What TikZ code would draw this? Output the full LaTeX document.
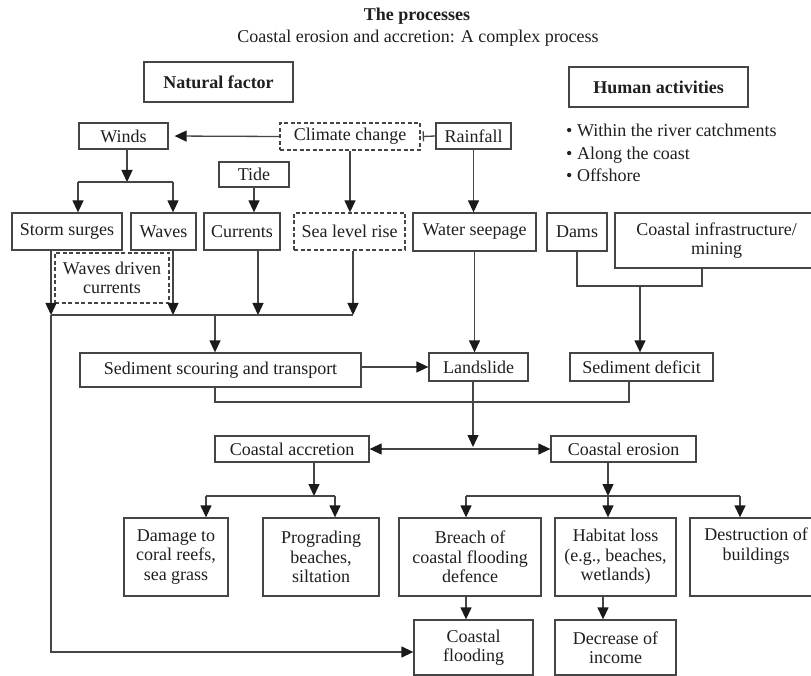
\documentclass[tikz,border=0pt]{standalone}
\usepackage{fontspec}
\setmainfont{Liberation Serif}
\usetikzlibrary{arrows.meta}
\definecolor{lc}{HTML}{454545}
\definecolor{ac}{HTML}{1a1a1a}
\definecolor{tc}{HTML}{1f1f1f}
\newcommand\myfs{\fontsize{18}{19.5}\selectfont}
\tikzset{
  box/.style={draw=lc, line width=1.3pt, inner sep=0pt, align=center, font=\myfs, text=tc},
  dbox/.style={box, dash pattern=on 4pt off 2.5pt},
  tbox/.style={box, line width=2.2pt},
  ln/.style={draw=lc, line width=1.3pt},
  tip/.style={Triangle[length=12pt,width=11pt,color=ac]},
  arr/.style={ln, -{Triangle[length=12pt,width=11pt,color=ac]}},
  arrb/.style={ln, {Triangle[length=12pt,width=11pt,color=ac]}-{Triangle[length=12pt,width=11pt,color=ac]}},
  barln/.style={ln, {Bar[width=10pt]}-},
  lbl/.style={inner sep=0pt, font=\myfs, text=tc}
}
\begin{document}
\begin{tikzpicture}[x=1pt,y=-1pt]
\useasboundingbox (0,0) rectangle (811,676);
\clip (0,0) rectangle (811,676);
\fill[white] (0,0) rectangle (811,676);
% titles
\node[lbl, font=\myfs\bfseries] (t1) at (417,16) {The processes};
\node[lbl] (t2) at (418,38) {Coastal erosion and accretion: A complex process};
\node[box, font=\myfs\bfseries, minimum width=149pt, minimum height=40pt] (nat) at (218.5,82) {Natural factor};
\node[box, font=\myfs\bfseries, minimum width=179pt, minimum height=40pt] (hum) at (658.5,87) {Human activities};
\node[lbl, align=left, anchor=north west, font=\fontsize{18}{22.5}\selectfont] (bul) at (566,124) {• Within the river catchments\\• Along the coast\\• Offshore};
% top row
\node[box, minimum width=89pt, minimum height=26pt] (winds) at (123.5,136) {Winds};
\node[dbox, minimum width=140pt, minimum height=27pt] (clim) at (350,136.5) {Climate change};
\node[box, minimum width=75pt, minimum height=26pt] (rain) at (473.5,136) {Rainfall};
\node[tbox, minimum width=70pt, minimum height=25pt] (tide) at (254,174.5) {Tide};
% second row
\node[box, minimum width=110pt, minimum height=37pt] (storm) at (67,231.5) {Storm surges};
\node[box, minimum width=65pt, minimum height=37pt] (waves) at (163.5,231.5) {Waves};
\node[box, minimum width=76pt, minimum height=37pt] (curr) at (242,231.5) {Currents};
\node[dbox, minimum width=111pt, minimum height=37pt] (slr) at (349.5,231.5) {Sea level rise};
\node[box, minimum width=123pt, minimum height=38pt] (seep) at (474.5,232) {Water seepage};
\node[box, minimum width=60pt, minimum height=38pt] (dams) at (577,232) {Dams};
\node[box, minimum width=203pt, minimum height=55pt] (infra) at (716.5,240.5) {Coastal infrastructure/\\mining};
\node[dbox, minimum width=114pt, minimum height=50pt] (wdc) at (112,278) {Waves driven\\currents};
% middle
\node[box, minimum width=281pt, minimum height=34pt] (sed) at (220.5,370) {Sediment scouring and transport};
\node[box, minimum width=99pt, minimum height=28pt] (land) at (478.5,367) {Landslide};
\node[box, minimum width=143pt, minimum height=28pt] (def) at (641.5,367) {Sediment deficit};
\node[box, minimum width=154pt, minimum height=26pt] (acc) at (292,449) {Coastal accretion};
\node[box, minimum width=145pt, minimum height=26pt] (ero) at (623.5,449) {Coastal erosion};
% bottom
\node[box, minimum width=104pt, minimum height=78pt] (dmg) at (176,557) {Damage to\\coral reefs,\\sea grass};
\node[box, minimum width=116pt, minimum height=78pt] (prog) at (321,557) {Prograding\\beaches,\\siltation};
\node[box, minimum width=142pt, minimum height=78pt] (breach) at (470,557) {Breach of\\coastal flooding\\defence};
\node[box, minimum width=121pt, minimum height=78pt] (hab) at (615.5,557) {Habitat loss\\(e.g., beaches,\\wetlands)};
\node[box, minimum width=132pt, minimum height=78pt] (destr) at (756,557) {Destruction of\\buildings\\\strut};
\node[box, minimum width=119pt, minimum height=55pt] (flood) at (473.5,647.5) {Coastal\\flooding};
\node[box, minimum width=121pt, minimum height=55pt] (decr) at (615.5,647.5) {Decrease of\\income};
% coordinates
\coordinate (w1) at (127,182);
\coordinate (b1) at (78,182);
\coordinate (b2) at (173,182);
\coordinate (m1) at (51,315);
\coordinate (m2) at (173,315);
\coordinate (m3) at (258,315);
\coordinate (m4) at (353,315);
\coordinate (m5) at (215,315);
\coordinate (d1) at (640,286);
\coordinate (d2) at (702,286);
\coordinate (s1) at (215,402);
\coordinate (s2) at (629,402);
\coordinate (L) at (473,447);
\coordinate (a0) at (314,496);
\coordinate (a1) at (206,496);
\coordinate (a2) at (335,496);
\coordinate (e0) at (608,496);
\coordinate (e1) at (466,496);
\coordinate (e2) at (740,496);
\coordinate (f1) at (466,596);
\coordinate (h1) at (603,596);
\coordinate (r1) at (51,652);
% connectors top
\draw[arr, shorten >=6pt] (clim.west) -- (winds.east);
\draw[barln] ([xshift=2pt]clim.east) -- (rain.west);
\draw[arr] (w1 |- winds.south) -- (w1);
\draw[ln] (b1) -- (b2);
\draw[arr] (b1) -- (b1 |- storm.north);
\draw[arr] (b2) -- (b2 |- waves.north);
\draw[arr] (tide.south) -- (tide.south |- curr.north);
\draw[arr] (clim.south) -- (clim.south |- slr.north);
\draw[arr] (rain.south) -- (rain.south |- seep.north);
% merge of natural factors
\draw[arr] (m1 |- storm.south) -- (m1);
\draw[arr] (m2 |- waves.south) -- (m2);
\draw[arr] (m3 |- curr.south) -- (m3);
\draw[arr] (m4 |- slr.south) -- (m4);
\draw[ln] (m1) -- (m4);
\draw[arr] (m5) -- (m5 |- sed.north);
\draw[arr] (m1) -- (r1) -- (r1 -| flood.west);
% human activities
\draw[ln] (dams.south) |- (d2) -- (d2 |- infra.south);
\draw[arr] (d1) -- (d1 |- def.north);
% middle
\draw[arr] (land.west -| sed.east) -- (land.west);
\draw[arr] (seep.south) -- (seep.south |- land.north);
\draw[ln] (s1 |- sed.south) -- (s1) -- (s2) -- (s2 |- def.south);
\draw[arr] (L |- land.south) -- (L);
\draw[arrb] (acc.east) -- (ero.west);
% accretion branch
\draw[arr] (a0 |- acc.south) -- (a0);
\draw[ln] (a1) -- (a2);
\draw[arr] (a1) -- (a1 |- dmg.north);
\draw[arr] (a2) -- (a2 |- prog.north);
% erosion branch
\draw[arr] (e0 |- ero.south) -- (e0);
\draw[ln] (e1) -- (e2);
\draw[arr] (e1) -- (e1 |- breach.north);
\draw[arr] (e0) -- (e0 |- hab.north);
\draw[arr] (e2) -- (e2 |- destr.north);
\draw[arr] (f1 |- breach.south) -- (f1 |- flood.north);
\draw[arr] (h1 |- hab.south) -- (h1 |- decr.north);
\end{tikzpicture}
\end{document}
